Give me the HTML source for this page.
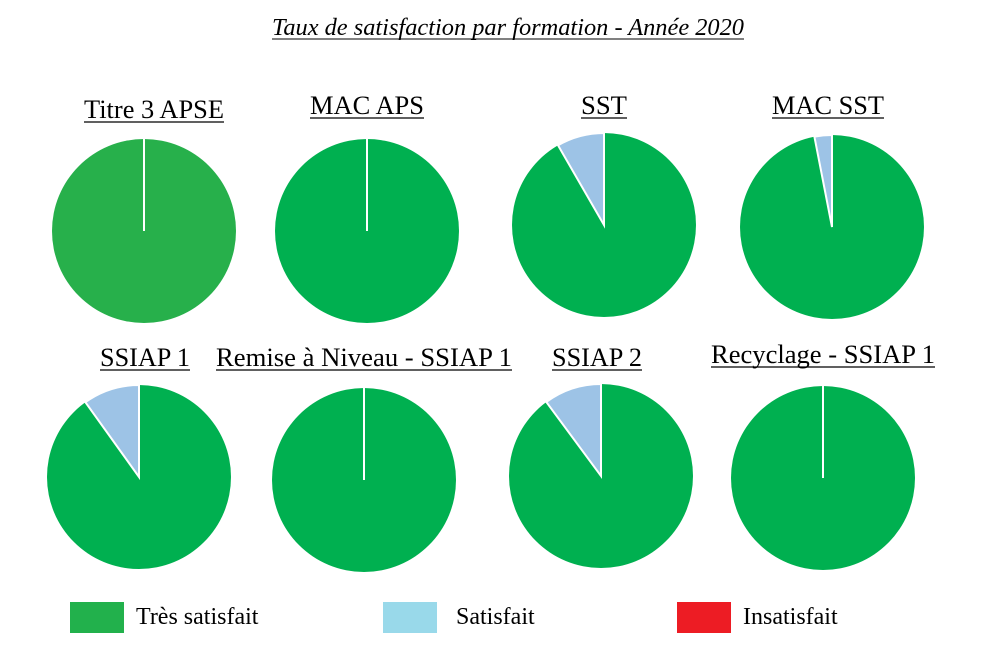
<!DOCTYPE html>
<html><head><meta charset="utf-8"><style>
html,body{margin:0;padding:0;background:#fff;}
svg{display:block;}
text{font-family:"Liberation Serif",serif;fill:#000;}
</style></head><body>
<svg width="992" height="661" viewBox="0 0 992 661" xmlns="http://www.w3.org/2000/svg">
<text x="272" y="35" font-size="24" font-style="italic" textLength="472" lengthAdjust="spacingAndGlyphs">Taux de satisfaction par formation - Année 2020</text>
<line x1="272" y1="39" x2="744" y2="39" stroke="#000" stroke-width="1"/>
<g font-size="26">
<text x="84" y="118" textLength="140" lengthAdjust="spacingAndGlyphs">Titre 3 APSE</text>
<text x="310" y="114" textLength="114" lengthAdjust="spacingAndGlyphs">MAC APS</text>
<text x="581" y="114" textLength="46" lengthAdjust="spacingAndGlyphs">SST</text>
<text x="772" y="114" textLength="112" lengthAdjust="spacingAndGlyphs">MAC SST</text>
<text x="100" y="366" textLength="90" lengthAdjust="spacingAndGlyphs">SSIAP 1</text>
<text x="216" y="366" textLength="296" lengthAdjust="spacingAndGlyphs">Remise à Niveau - SSIAP 1</text>
<text x="552" y="366" textLength="90" lengthAdjust="spacingAndGlyphs">SSIAP 2</text>
<text x="711" y="363" textLength="224" lengthAdjust="spacingAndGlyphs">Recyclage - SSIAP 1</text>
</g>
<g stroke="#000" stroke-width="1.2">
<line x1="84" y1="122" x2="224" y2="122"/>
<line x1="310" y1="118" x2="424" y2="118"/>
<line x1="581" y1="118" x2="627" y2="118"/>
<line x1="772" y1="118" x2="884" y2="118"/>
<line x1="100" y1="370" x2="190" y2="370"/>
<line x1="216" y1="370" x2="512" y2="370"/>
<line x1="552" y1="370" x2="642" y2="370"/>
<line x1="711" y1="367" x2="935" y2="367"/>
</g>
<circle cx="144" cy="231" r="92" fill="#27b04b"/>
<line x1="144" y1="139" x2="144" y2="231" stroke="#fff" stroke-width="2"/>
<circle cx="367" cy="231" r="92" fill="#00b050"/>
<line x1="367" y1="139" x2="367" y2="231" stroke="#fff" stroke-width="2"/>
<circle cx="604" cy="225" r="92" fill="#00b050"/>
<path d="M604 225 L604 133 A92 92 0 0 0 558 145.3 Z" fill="#9dc3e6" stroke="#fff" stroke-width="2"/>
<circle cx="832" cy="227" r="92" fill="#00b050"/>
<path d="M832 227 L832 135 A92 92 0 0 0 814.4 136.7 Z" fill="#9dc3e6" stroke="#fff" stroke-width="2"/>
<circle cx="139" cy="477" r="92" fill="#00b050"/>
<path d="M139 477 L139 385 A92 92 0 0 0 85.4 402.2 Z" fill="#9dc3e6" stroke="#fff" stroke-width="2"/>
<circle cx="364" cy="480" r="92" fill="#00b050"/>
<line x1="364" y1="388" x2="364" y2="480" stroke="#fff" stroke-width="2"/>
<circle cx="601" cy="476" r="92" fill="#00b050"/>
<path d="M601 476 L601 384 A92 92 0 0 0 546.3 402 Z" fill="#9dc3e6" stroke="#fff" stroke-width="2"/>
<circle cx="823" cy="478" r="92" fill="#00b050"/>
<line x1="823" y1="386" x2="823" y2="478" stroke="#fff" stroke-width="2"/>
<rect x="70" y="602" width="54" height="31" fill="#22b14c"/>
<rect x="383" y="602" width="54" height="31" fill="#99d9ea"/>
<rect x="677" y="602" width="54" height="31" fill="#ed1c24"/>
<g font-size="24">
<text x="136" y="624">Très satisfait</text>
<text x="456" y="624">Satisfait</text>
<text x="743" y="624">Insatisfait</text>
</g>
</svg>
</body></html>
